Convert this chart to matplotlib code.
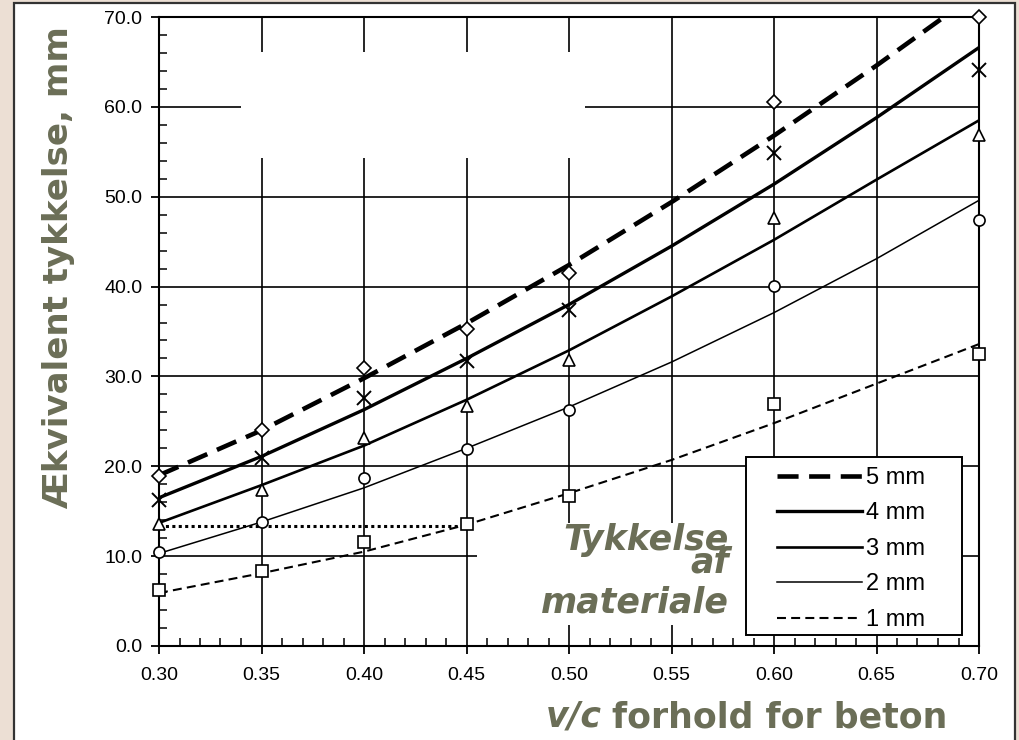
import matplotlib
matplotlib.use("Agg")
import matplotlib.pyplot as plt
from matplotlib.patches import Rectangle
from matplotlib.ticker import MultipleLocator, FormatStrFormatter

# ---- data ----
vc_points = [0.30, 0.35, 0.40, 0.45, 0.50, 0.60, 0.70]
pts_5 = [18.9, 24.0, 30.9, 35.3, 41.5, 60.5, 70.0]
pts_4 = [16.3, 20.9, 27.6, 31.7, 37.4, 54.9, 64.1]
pts_3 = [13.6, 17.4, 23.1, 26.7, 31.8, 47.6, 56.9]
pts_2 = [10.5, 13.8, 18.7, 21.9, 26.3, 40.1, 47.4]
pts_1 = [6.2, 8.3, 11.6, 13.6, 16.7, 26.9, 32.5]

vc_curve = [0.30, 0.35, 0.40, 0.45, 0.50, 0.55, 0.60, 0.65, 0.70]
fit_5 = [19.0, 24.0, 29.8, 35.9, 42.4, 49.4, 56.8, 64.6, 72.8]
fit_4 = [16.5, 21.1, 26.3, 32.0, 38.0, 44.5, 51.4, 58.8, 66.6]
fit_3 = [13.7, 17.9, 22.3, 27.4, 32.9, 38.9, 45.2, 51.9, 58.5]
fit_2 = [10.3, 13.8, 17.6, 22.0, 26.6, 31.6, 37.1, 43.1, 49.6]
fit_1 = [5.9, 8.1, 10.5, 13.5, 17.0, 20.7, 24.8, 29.2, 33.6]

ref_x = [0.30, 0.453]
ref_y = [13.3, 13.3]

labels = ["5 mm", "4 mm", "3 mm", "2 mm", "1 mm"]
x_ticks = [0.30, 0.35, 0.40, 0.45, 0.50, 0.55, 0.60, 0.65, 0.70]
y_ticks = [0, 10, 20, 30, 40, 50, 60, 70]

OLIVE = "#6b6e57"
BEIGE = "#ecdfd4"

fig = plt.figure(figsize=(10.19, 7.40), dpi=100, facecolor=BEIGE)
# white panel with dark frame
panel = Rectangle((14 / 1019, -0.05), (1015 - 14) / 1019, 1.05 - 3 / 740,
                  transform=fig.transFigure, facecolor="white",
                  edgecolor="#333333", lw=1.6, zorder=-10)
fig.patches.append(panel)

ax = fig.add_axes([159 / 1019, 94 / 740, 820 / 1019, 629 / 740])
ax.set_zorder(1)
ax.set_facecolor("white")
ax.set_xlim(0.30, 0.70)
ax.set_ylim(0, 70)
ax.set_axisbelow(True)
ax.grid(True, which="major", color="black", lw=1.2)

# blank patches where the scan shows no grid
ax.add_patch(Rectangle((0.340, 54.3), 0.508 - 0.340, 66.1 - 54.3,
                       facecolor="white", edgecolor="none", zorder=1))
ax.add_patch(Rectangle((0.455, 2.3), 0.65 - 0.455, 13.7 - 2.3,
                       facecolor="white", edgecolor="none", zorder=1))

for sp in ax.spines.values():
    sp.set_linewidth(1.5)
    sp.set_color("black")

ax.set_xticks(x_ticks)
ax.set_yticks(y_ticks)
ax.xaxis.set_minor_locator(MultipleLocator(0.01))
ax.yaxis.set_minor_locator(MultipleLocator(2))
ax.xaxis.set_major_formatter(FormatStrFormatter("%.2f"))
ax.yaxis.set_major_formatter(FormatStrFormatter("%.1f"))
ax.tick_params(which="major", direction="out", length=6, width=1.3)
ax.tick_params(which="minor", direction="in", length=6, width=1.1)
ax.tick_params(axis="x", which="major", pad=9)
ax.tick_params(axis="y", which="major", pad=6)
for lab in ax.get_xticklabels() + ax.get_yticklabels():
    lab.set_fontfamily("Liberation Sans")
    lab.set_fontsize(14)

# fitted curves
l5, = ax.plot(vc_curve, fit_5, color="black", lw=3.3, ls=(0, (4.6, 2.3)), zorder=3)
l4, = ax.plot(vc_curve, fit_4, color="black", lw=2.4, zorder=3)
l3, = ax.plot(vc_curve, fit_3, color="black", lw=1.9, zorder=3)
l2, = ax.plot(vc_curve, fit_2, color="black", lw=1.1, zorder=3)
l1, = ax.plot(vc_curve, fit_1, color="black", lw=1.5, ls=(0, (4.3, 2.5)), zorder=3)
ax.plot(ref_x, ref_y, color="black", lw=2.2, ls=(0, (1, 1.1)), zorder=3)

mk = dict(ls="none", mfc="white", mec="black", mew=1.2, zorder=4, clip_on=False)
ax.plot(vc_points, pts_5, marker="D", ms=7, **mk)
ax.plot(vc_points, pts_4, marker="x", ms=10, mew=1.4, color="black", ls="none",
        zorder=4, clip_on=False)
ax.plot(vc_points, pts_3, marker="^", ms=9, **mk)
ax.plot(vc_points, pts_2, marker="o", ms=8, **mk)
ax.plot(vc_points, pts_1, marker="s", ms=8, **mk)

# legend frame drawn separately, entries without frame
ax.add_patch(Rectangle((0.7159, 0.0175), 0.9793 - 0.7159, 0.3005 - 0.0175,
                       transform=ax.transAxes, facecolor="white",
                       edgecolor="black", lw=1.4, zorder=5))
leg = ax.legend([l5, l4, l3, l2, l1], labels, loc="upper left",
                bbox_to_anchor=(0.7537, 0.2846), borderaxespad=0,
                prop={"family": "Liberation Sans", "size": 17},
                handlelength=3.6, handletextpad=0.15, labelspacing=0.57,
                borderpad=0, frameon=False)
leg.set_zorder(6)

# olive annotation text
tk = dict(color=OLIVE, fontsize=25, fontweight="bold", fontstyle="italic",
          family="DejaVu Sans", ha="right", va="baseline", zorder=7)
ax.text(0.578, 10.7, "Tykkelse", **tk)
ax.text(0.578, 8.2, "af", **tk)
ax.text(0.578, 3.7, "materiale", **tk)

fig.text(59 / 1019, 1 - 268 / 740, "Ækvivalent tykkelse, mm", rotation=90,
         ha="center", va="center", color=OLIVE, fontsize=24.5, fontweight="bold",
         family="DejaVu Sans")
fig.text(602 / 1019, 1 - 727 / 740, "v/c", ha="right", va="baseline",
         color=OLIVE, fontsize=25, fontweight="bold", fontstyle="italic",
         family="DejaVu Sans")
fig.text(612 / 1019, 1 - 727 / 740, "forhold for beton", ha="left", va="baseline",
         color=OLIVE, fontsize=25, fontweight="bold", family="DejaVu Sans")

fig.savefig("out.png", dpi=100, facecolor=BEIGE)
